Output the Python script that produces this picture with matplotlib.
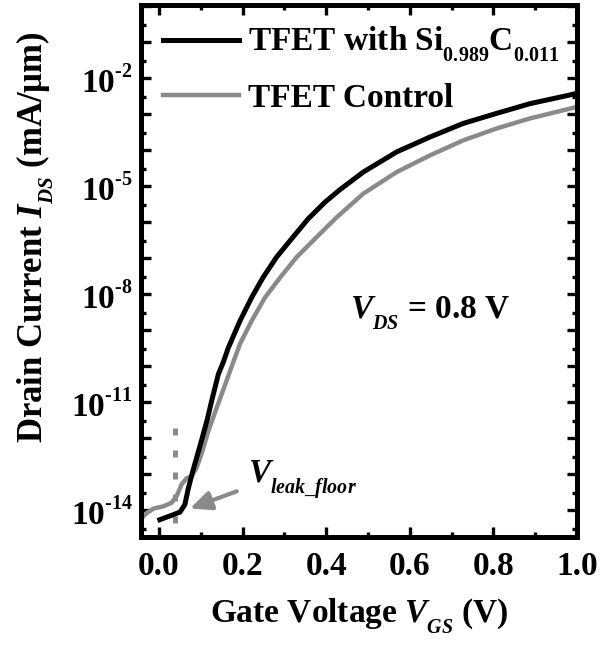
import numpy as np
import matplotlib
matplotlib.use('Agg')
import matplotlib.pyplot as plt
from matplotlib import _mathtext
from matplotlib.ticker import FixedLocator, LogLocator, FuncFormatter, MultipleLocator, NullFormatter

# Transfer curves at V_DS = 0.8 V: gate voltage (V) and log10 of I_DS (mA/um)
vgs_sic = [0.002, 0.034, 0.050, 0.062, 0.070, 0.080, 0.090, 0.102, 0.115, 0.126,
           0.142, 0.154, 0.166, 0.194, 0.222, 0.249, 0.281, 0.317, 0.357, 0.397,
           0.433, 0.489, 0.569, 0.648, 0.728, 0.808, 0.888, 0.983, 1.0]
log_ids_sic = [-14.26, -14.12, -14.05, -13.84, -13.40, -12.95, -12.54, -12.05, -11.50, -10.96,
               -10.22, -9.88, -9.48, -8.73, -8.08, -7.53, -6.97, -6.46, -5.90, -5.44,
               -5.09, -4.60, -4.04, -3.63, -3.25, -2.97, -2.70, -2.46, -2.41]

vgs_ctrl = [-0.041, -0.029, -0.013, 0.010, 0.030, 0.042, 0.054, 0.066, 0.078, 0.090,
            0.102, 0.118, 0.134, 0.146, 0.170, 0.194, 0.222, 0.254, 0.290, 0.329,
            0.377, 0.425, 0.489, 0.569, 0.648, 0.728, 0.808, 0.888, 0.983, 1.0]
log_ids_ctrl = [-14.21, -14.07, -13.95, -13.89, -13.79, -13.61, -13.28, -13.11, -13.05, -12.82,
                -12.42, -11.80, -11.28, -10.90, -10.13, -9.37, -8.73, -8.08, -7.53, -6.97,
                -6.41, -5.86, -5.20, -4.60, -4.14, -3.72, -3.39, -3.11, -2.84, -2.79]

labels = ['TFET with Si$_{0.989}$C$_{0.011}$', 'TFET Control']
colors = ['#000000', '#8a8a8a']

# leakage floor marker
v_leak_floor = 0.038
leak_mark_span = [-11.7, -14.45]
arrow_tail = (0.186, -13.47)
arrow_tip = (0.074, -13.95)

plt.rcParams['font.family'] = ['Liberation Serif', 'DejaVu Serif']
plt.rcParams['font.weight'] = 'bold'
plt.rcParams['axes.labelweight'] = 'bold'
plt.rcParams['mathtext.fontset'] = 'custom'
plt.rcParams['mathtext.rm'] = 'Liberation Serif:bold'
plt.rcParams['mathtext.it'] = 'Liberation Serif:bold:italic'
plt.rcParams['mathtext.bf'] = 'Liberation Serif:bold'
plt.rcParams['mathtext.default'] = 'rm'
# smaller, lower subscripts and higher superscripts (Origin style)
_mathtext.SHRINK_FACTOR = 0.6
_mathtext.FontConstantsBase.sub1 = 0.7
_mathtext.FontConstantsBase.sup1 = 0.95

fig = plt.figure(figsize=(6.01, 6.48), dpi=100)
ax = fig.add_axes([0.2346, 0.1713, 0.7254, 0.821])

ax.semilogy(vgs_sic, 10 ** np.array(log_ids_sic), color=colors[0], lw=3.6, label=labels[0],
            solid_joinstyle='round', zorder=3)
ax.semilogy(vgs_ctrl, 10 ** np.array(log_ids_ctrl), color=colors[1], lw=3.2, label=labels[1],
            solid_joinstyle='round', zorder=2)

ax.plot([v_leak_floor, v_leak_floor], 10 ** np.array(leak_mark_span), color=colors[1],
        lw=3.6, dashes=(1.4, 3.0), dash_capstyle='butt', zorder=1)
ax.annotate('', xy=(arrow_tip[0], 10 ** arrow_tip[1]),
            xytext=(arrow_tail[0], 10 ** arrow_tail[1]),
            arrowprops=dict(arrowstyle='-|>,head_length=0.4,head_width=0.18',
                            color=colors[1], lw=3, mutation_scale=32, shrinkA=0, shrinkB=0))
ax.text(0.213, 10 ** -13.27, r'$\mathit{V}_{\mathit{leak\_floor}}$', fontsize=24,
        ha='left', va='baseline')
ax.text(0.457, 10 ** -8.68, r'$\mathit{V}_{\mathit{DS}}$ = 0.8 V', fontsize=24,
        ha='left', va='baseline')

ax.set_xlim(-0.043, 1.0)
ax.set_ylim(10 ** -14.74, 10 ** 0.04)

# x ticks: long every 0.2, short in between
ax.xaxis.set_major_locator(MultipleLocator(0.2))
ax.xaxis.set_minor_locator(MultipleLocator(0.1))
ax.xaxis.set_major_formatter(FuncFormatter(lambda v, p: f'{v:.1f}'))

# y ticks: one per decade, label every third decade
decades = np.arange(-15, 1)
ax.yaxis.set_major_locator(FixedLocator(10.0 ** decades))
ax.yaxis.set_minor_locator(LogLocator(base=10, subs=(3.0,), numticks=40))
ax.yaxis.set_minor_formatter(NullFormatter())


def fmt_decade(v, p):
    k = int(round(np.log10(v)))
    if k % 3 != 1:
        return ''
    # short hyphen in the exponent instead of a full minus sign
    return '$10^{\u2010' + str(abs(k)) + '}$'


ax.yaxis.set_major_formatter(FuncFormatter(fmt_decade))

ax.tick_params(which='both', direction='in', top=True, right=True, width=2.4, labelsize=24)
ax.tick_params(which='major', length=7)
ax.tick_params(which='minor', length=3.6)
ax.tick_params(axis='x', pad=10)
ax.tick_params(axis='y', pad=6)
for s in ax.spines.values():
    s.set_linewidth(3.6)

ax.set_xlabel(r'Gate Voltage $\mathit{V}_{\mathit{GS}}$ (V)', fontsize=24)
ax.set_ylabel(r'Drain Current $\mathit{I}_{\mathit{DS}}$ (mA/μm)', fontsize=25)
ax.xaxis.set_label_coords(0.5, -0.112)
ax.yaxis.set_label_coords(-0.194, 0.564)

ax.legend(loc='upper left', bbox_to_anchor=(0.05, 0.962), frameon=False, fontsize=24,
          handlelength=2.3, handletextpad=0.25, labelspacing=0.55, borderaxespad=0.0,
          borderpad=0.0)

fig.savefig('out.png', dpi=100)
